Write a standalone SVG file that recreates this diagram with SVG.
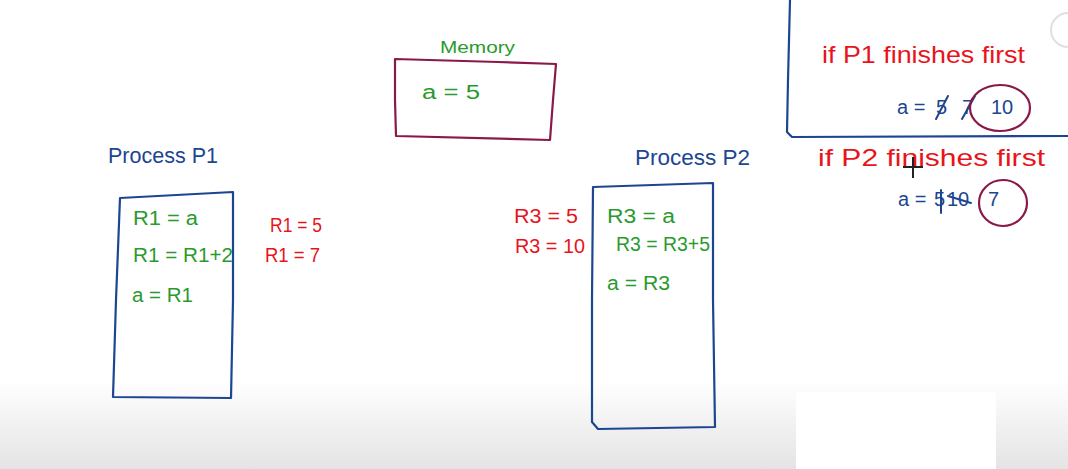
<svg xmlns="http://www.w3.org/2000/svg" width="1068" height="469" viewBox="0 0 1068 469">
<defs>
<linearGradient id="fade" x1="0" y1="0" x2="0" y2="1">
<stop offset="0" stop-color="#ffffff"/>
<stop offset="1" stop-color="#e4e4e4"/>
</linearGradient>
<style>
text{font-family:"Liberation Sans","Open Sans",sans-serif;font-size:20px}
.g{fill:#2a9a2e}
.r{fill:#e8141c}
.b{fill:#1c4690}
.box{fill:none;stroke:#1c4690;stroke-width:2.2;stroke-linejoin:round}
.mem{fill:none;stroke:#8a1848;stroke-width:2.2;stroke-linejoin:round}
.ring{fill:none;stroke:#8a1848;stroke-width:2.2}
.strike{stroke:#1c4690;stroke-width:2;stroke-linecap:round}
</style>
</defs>
<rect width="1068" height="469" fill="#ffffff"/>
<rect x="0" y="380" width="1068" height="89" fill="url(#fade)"/>
<rect x="796" y="392" width="200" height="77" fill="#ffffff"/>
<circle cx="1068" cy="30" r="17" fill="none" stroke="#e0e0e0" stroke-width="2"/>

<g id="memory">
<path class="mem" d="M395,59 L498,62 L556,64 L553,100 L550,140 L396,136 L395,100 Z"/>
<text x="440" y="53" class="g" style="font-size:17px" textLength="75" lengthAdjust="spacingAndGlyphs">Memory</text>
<text x="422" y="99" class="g" textLength="58" lengthAdjust="spacingAndGlyphs">a = 5</text>
</g>

<g id="process-p1">
<text x="108" y="163" class="b" style="font-size:22px" textLength="110" lengthAdjust="spacingAndGlyphs">Process P1</text>
<path class="box" d="M120,198 L233,192 L233,300 L231,398 L113,397 L116,300 Z"/>
<text x="133" y="225" class="g" textLength="65" lengthAdjust="spacingAndGlyphs">R1 = a</text>
<text x="133" y="262" class="g" textLength="100" lengthAdjust="spacingAndGlyphs">R1 = R1+2</text>
<text x="132" y="302" class="g" textLength="61" lengthAdjust="spacingAndGlyphs">a = R1</text>
<text x="270" y="232" class="r" textLength="52" lengthAdjust="spacingAndGlyphs">R1 = 5</text>
<text x="265" y="262" class="r" textLength="55" lengthAdjust="spacingAndGlyphs">R1 = 7</text>
</g>

<g id="process-p2">
<text x="635" y="165" class="b" style="font-size:22px" textLength="115" lengthAdjust="spacingAndGlyphs">Process P2</text>
<path class="box" d="M593,187 L713,183 L713,300 L715,427 L598,429 L592,422 L592,300 Z"/>
<text x="607" y="223" class="g" textLength="68" lengthAdjust="spacingAndGlyphs">R3 = a</text>
<text x="616" y="251" class="g" textLength="94" lengthAdjust="spacingAndGlyphs">R3 = R3+5</text>
<text x="607" y="290" class="g" textLength="63" lengthAdjust="spacingAndGlyphs">a = R3</text>
<text x="514" y="223" class="r" textLength="64" lengthAdjust="spacingAndGlyphs">R3 = 5</text>
<text x="515" y="253" class="r" textLength="70" lengthAdjust="spacingAndGlyphs">R3 = 10</text>
</g>

<g id="outcome-p1">
<path class="box" d="M790,0 L788,80 L787,132 L792,137 L1068,136"/>
<text x="822" y="63" class="r" style="font-size:24px" textLength="203" lengthAdjust="spacingAndGlyphs">if P1 finishes first</text>
<text x="897" y="114" class="b">a =</text>
<text x="936" y="114" class="b">5</text>
<text x="962" y="114" class="b">7</text>
<text x="991" y="114" class="b">10</text>
<line class="strike" x1="936" y1="119" x2="948" y2="96"/>
<line class="strike" x1="962" y1="119" x2="975" y2="96"/>
<ellipse class="ring" cx="1000" cy="108" rx="30" ry="23"/>
</g>

<g id="outcome-p2">
<text x="818" y="166" class="r" style="font-size:24px" textLength="227" lengthAdjust="spacingAndGlyphs">if P2 finishes first</text>
<text x="898" y="206" class="b">a =</text>
<text x="934" y="206" class="b">5</text>
<text x="947" y="206" class="b">10</text>
<text x="988" y="206" class="b">7</text>
<line class="strike" x1="941" y1="190" x2="941" y2="213"/>
<line class="strike" x1="948" y1="196" x2="971" y2="203"/>
<ellipse class="ring" cx="1003" cy="203" rx="24" ry="23"/>
<path d="M913,157 L913,178 M903,167 L923,167" stroke="#222" stroke-width="2"/>
</g>

<g id="connectors"></g>
</svg>
